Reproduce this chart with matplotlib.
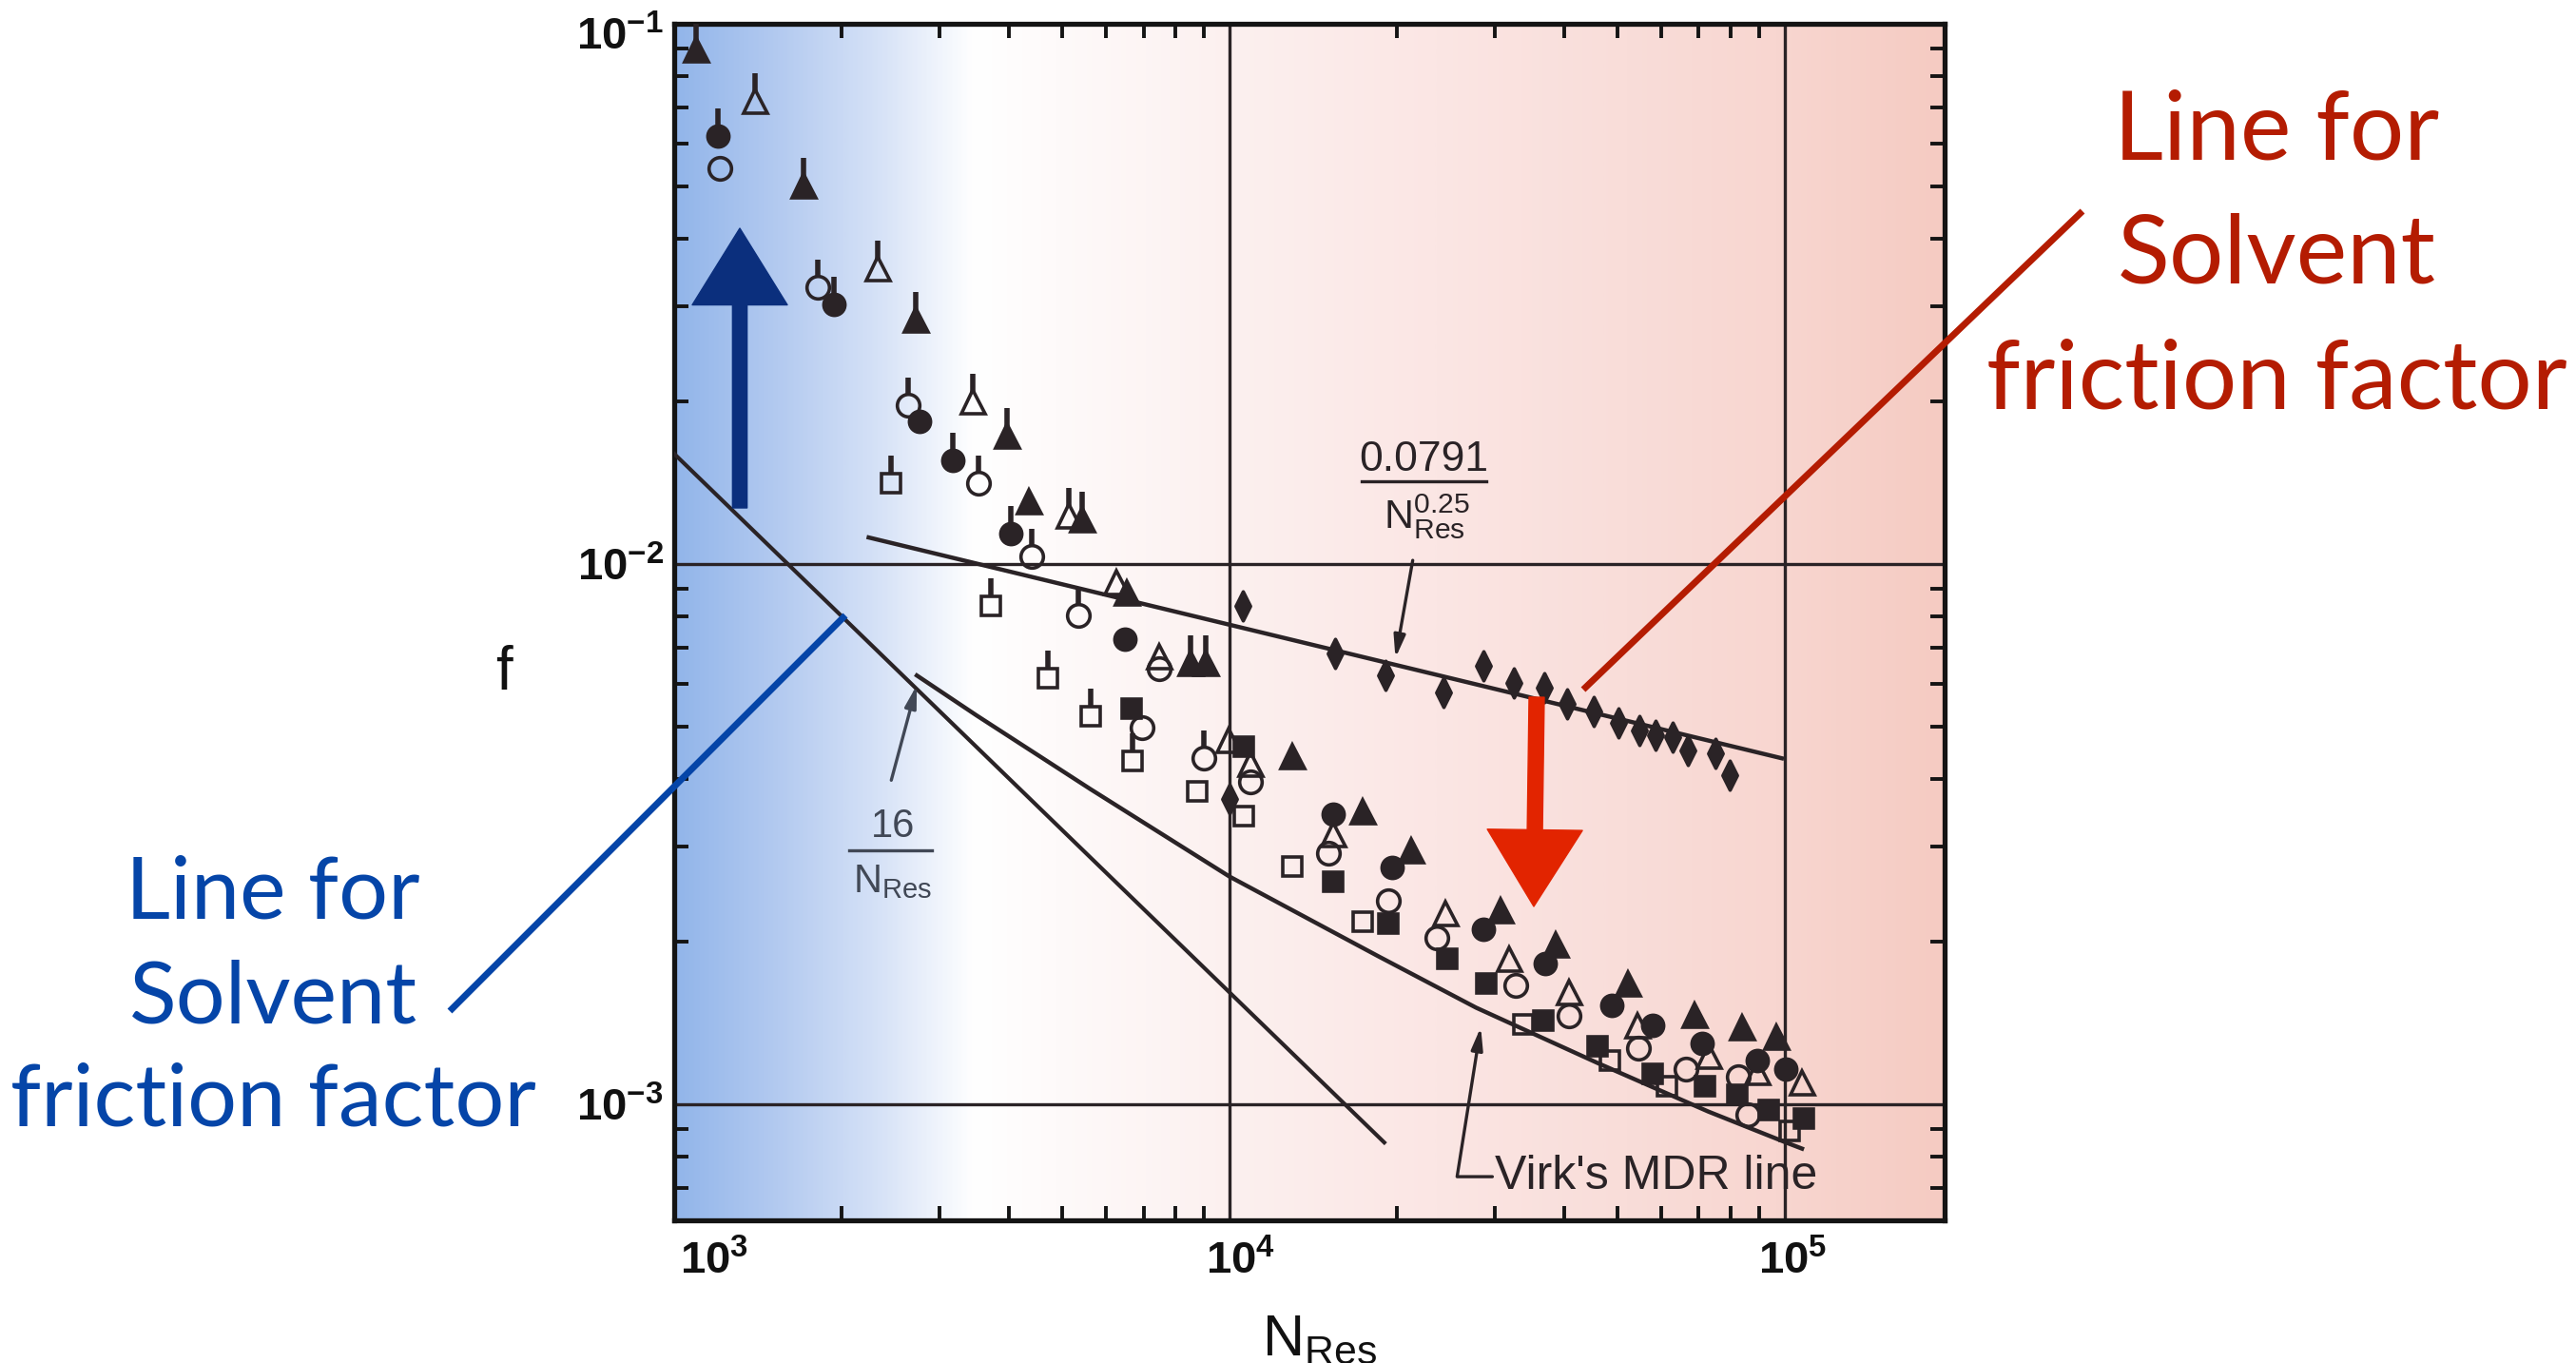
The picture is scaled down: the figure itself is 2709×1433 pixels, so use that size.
import matplotlib
matplotlib.use("Agg")
import matplotlib.pyplot as plt
import numpy as np
from matplotlib.colors import LinearSegmentedColormap
from matplotlib.lines import Line2D
from matplotlib.markers import MarkerStyle
from matplotlib.patches import FancyArrowPatch
from matplotlib.path import Path
from matplotlib.ticker import FixedLocator, LogLocator, NullFormatter
from matplotlib.transforms import ScaledTranslation

plt.rcParams["font.family"] = ["Liberation Sans", "DejaVu Sans"]
plt.rcParams["mathtext.default"] = "regular"

W, H = 2709, 1433
INK = "#2a2326"
BLUE = "#0545a8"
RED = "#b41c02"

# axis ticks
x_ticks = [1e3, 1e4, 1e5]
x_tick_labels = ["$10^{3}$", "$10^{4}$", "$10^{5}$"]
y_ticks = [1e-3, 1e-2, 1e-1]
y_tick_labels = ["$10^{-3}$", "$10^{-2}$", "$10^{-1}$"]

# reference lines
laminar_re = [1000, 19000]
laminar_f = [0.016, 0.00085]
blasius_re = [2240, 98800]
blasius_f = [0.0112, 0.00437]
virk_re = [2735, 3500, 5623, 10000, 18530, 27800, 46240, 72780, 100200, 107400]
virk_f = [0.00622, 0.00525, 0.00383, 0.00264, 0.00188, 0.00151, 0.00119, 0.00097, 0.000851, 0.000828]

# measured points (flag = symbol drawn with a tail)
open_circle_re = [1208, 1814, 2637, 3531, 4404, 5342, 7470, 6958, 8992, 10907, 15070,
                  19320, 23620, 32770, 40860, 54490, 66350, 82450, 85750]
open_circle_f = [0.0539, 0.0325, 0.0197, 0.0141, 0.01033, 0.00803, 0.0064, 0.00498, 0.00437,
                 0.00395, 0.00292, 0.00238, 0.00203, 0.00166, 0.001457, 0.001272, 0.00116,
                 0.001123, 0.000957]
open_circle_flag = [0, 1, 1, 1, 1, 1, 0, 0, 1, 0, 0, 0, 0, 0, 0, 0, 0, 0, 0]

filled_circle_re = [1199, 1940, 2766, 3175, 4036, 6480, 15370, 19630, 28660, 37030, 48800,
                    57810, 70960, 89200, 100400]
filled_circle_f = [0.0619, 0.0302, 0.01837, 0.01555, 0.01139, 0.00725, 0.00345, 0.00274,
                   0.00211, 0.00182, 0.001523, 0.0014, 0.001297, 0.001207, 0.00116]
filled_circle_flag = [1, 1, 0, 1, 1, 0, 0, 0, 0, 0, 0, 0, 0, 0, 0]

open_tri_re = [1398, 2325, 3449, 5135, 6256, 7470, 9960, 10907, 15370, 24470, 31870, 40860,
               54270, 72950, 89200, 107300]
open_tri_f = [0.072, 0.0353, 0.02, 0.01232, 0.00926, 0.00675, 0.00472, 0.00427, 0.00316,
              0.00226, 0.00186, 0.001617, 0.0014, 0.001231, 0.00115, 0.0011]
open_tri_flag = [1, 1, 1, 1, 0, 0, 0, 0, 0, 0, 0, 0, 0, 0, 0, 0]

filled_tri_re = [1095, 1710, 2722, 3975, 4352, 5427, 6531, 8509, 9063, 12970, 17370, 21230,
                 30760, 38670, 52180, 68770, 83750, 96520]
filled_tri_f = [0.0895, 0.0502, 0.0283, 0.0173, 0.01305, 0.01212, 0.00886, 0.00656, 0.00656,
                0.00441, 0.00348, 0.00295, 0.00229, 0.00198, 0.001676, 0.001463, 0.001389,
                0.001334]
filled_tri_flag = [1, 1, 1, 1, 0, 1, 0, 1, 1, 0, 0, 0, 0, 0, 0, 0, 0, 0]

open_sq_re = [1208, 2457, 3718, 4709, 5623, 6687, 8747, 10610, 12970, 17370, 33820, 48400,
              61340, 102000]
open_sq_f = [0.032, 0.0141, 0.00836, 0.00615, 0.00522, 0.00432, 0.0038, 0.00342, 0.00276,
             0.00218, 0.001405, 0.001207, 0.001079, 0.000894]
open_sq_flag = [1, 1, 1, 1, 1, 1, 0, 0, 0, 0, 0, 0, 0, 0]

filled_sq_re = [6662, 10610, 15370, 19320, 24660, 28990, 36740, 45990, 57810, 71810, 82130,
                93520, 108200]
filled_sq_f = [0.0054, 0.0046, 0.00258, 0.00216, 0.00186, 0.001676, 0.001428, 0.001282,
               0.001137, 0.001079, 0.00104, 0.000976, 0.000942]
filled_sq_flag = [0] * 13

diamond_re = [10000, 10570, 15490, 19090, 24290, 28660, 32510, 36880, 40550, 45280, 50150,
              54700, 58490, 62810, 66880, 74990, 79560]
diamond_f = [0.00367, 0.00836, 0.00683, 0.00623, 0.00579, 0.00648, 0.00603, 0.0059, 0.00551,
             0.00534, 0.00508, 0.00492, 0.00483, 0.00479, 0.00451, 0.00447, 0.00406]
diamond_flag = [0] * 17

note_lines = ["Line for", "Solvent", "friction factor"]


def fpx(x, y):
    # reference pixel -> figure fraction
    return x / W, 1 - y / H


fig = plt.figure(figsize=(W / 100, H / 100), dpi=100)
pos = [709 / W, 1 - 1283 / H, (2045 - 709) / W, (1283 - 25) / H]

# blue -> white -> pink wash behind the plot
bg = fig.add_axes(pos, zorder=0)
wash = LinearSegmentedColormap.from_list("wash", [
    (0.0, "#92b5ea"), (0.08, "#b3caf0"), (0.16, "#d6e2f7"), (0.235, "#ffffff"),
    (0.3, "#fefafa"), (0.44, "#fcf0ef"), (0.6, "#fbe6e4"), (0.75, "#f9ddd9"),
    (0.87, "#f8d6d0"), (1.0, "#f5cbc2")])
bg.imshow(np.linspace(0, 1, 512)[None, :], cmap=wash, aspect="auto", extent=[0, 1, 0, 1])
bg.set_axis_off()

ax = fig.add_axes(pos, zorder=1)
ax.patch.set_visible(False)
ax.set_xscale("log")
ax.set_yscale("log")
ax.set_xlim(1e3, 1.94e5)
ax.set_ylim(6.1e-4, 0.1)

ax.xaxis.set_major_locator(FixedLocator(x_ticks))
ax.yaxis.set_major_locator(FixedLocator(y_ticks))
ax.set_xticklabels(x_tick_labels, fontsize=34, fontweight="bold")
ax.set_yticklabels(y_tick_labels, fontsize=34, fontweight="bold")
for axis in (ax.xaxis, ax.yaxis):
    axis.set_minor_locator(LogLocator(base=10, subs=np.arange(2, 10), numticks=20))
    axis.set_minor_formatter(NullFormatter())
ax.tick_params(which="both", direction="in", top=True, right=True, color="#141414")
ax.tick_params(which="major", length=0, labelcolor="#111111")
ax.tick_params(which="minor", length=11, width=2.8)
ax.tick_params(axis="x", which="major", pad=15)
ax.tick_params(axis="y", which="major", pad=8)
ax.grid(True, which="major", color=INK, lw=2.4)
for s in ax.spines.values():
    s.set_linewidth(3.8)
    s.set_color("#141414")

ax.plot(laminar_re, laminar_f, color=INK, lw=3.0, zorder=3)
ax.plot(blasius_re, blasius_f, color=INK, lw=3.2, zorder=3)
ax.plot(virk_re, virk_f, color=INK, lw=3.2, zorder=3)

stem = MarkerStyle(Path([(0, 0.35), (0, 1.0)]))
thin_diamond = Path([(0, 1), (0.5, 0), (0, -1), (-0.5, 0), (0, 1)],
                    [Path.MOVETO, Path.LINETO, Path.LINETO, Path.LINETO, Path.CLOSEPOLY])
series = [
    (open_circle_re, open_circle_f, open_circle_flag, "o", False, 17),
    (filled_circle_re, filled_circle_f, filled_circle_flag, "o", True, 16),
    (open_tri_re, open_tri_f, open_tri_flag, "^", False, 18),
    (filled_tri_re, filled_tri_f, filled_tri_flag, "^", True, 18),
    (open_sq_re, open_sq_f, open_sq_flag, "s", False, 15),
    (filled_sq_re, filled_sq_f, filled_sq_flag, "s", True, 15),
    (diamond_re, diamond_f, diamond_flag, thin_diamond, True, 22),
]
for re_, f_, flags, mk, filled, ms in series:
    ax.plot(re_, f_, ls="none", marker=mk, ms=ms, mew=2.6, mec=INK,
            mfc=INK if filled else "none", zorder=4)
    fx = [r for r, fl in zip(re_, flags) if fl]
    fy = [v for v, fl in zip(f_, flags) if fl]
    ax.plot(fx, fy, ls="none", marker=stem, ms=42, mew=4.0, mec=INK, mfc="none", zorder=4)

# small arrows pointing at the curves
head = dict(arrowstyle="-|>,head_length=0.7,head_width=0.18", mutation_scale=20,
            lw=2.4, shrinkA=0, shrinkB=0)
ax.annotate("", xy=(2735, 0.00597), xytext=(2460, 0.00398),
            arrowprops=dict(color="#414856", **head), zorder=5)
ax.annotate("", xy=(19900, 0.0067), xytext=(21380, 0.01016),
            arrowprops=dict(color=INK, **head), zorder=5)
ax.annotate("Virk's MDR line", xy=(28350, 0.00139), xytext=(30070, 0.000697),
            fontsize=36, color=INK, ha="left", va="baseline", zorder=5,
            arrowprops=dict(color=INK, connectionstyle="angle,angleA=0,angleB=81,rad=0",
                            relpos=(0, 0.5), **head))

# fraction labels
fig.text(*fpx(939, 880), "16", fontsize=30, color="#414856", ha="center", va="baseline")
fig.add_artist(Line2D([893 / W, 980 / W], [1 - 894 / H] * 2, color="#414856", lw=2.4))
fig.text(*fpx(939, 938), "$N_{Res}$", fontsize=30, color="#414856", ha="center", va="baseline")
fig.text(*fpx(1497, 495), "0.0791", fontsize=32, color=INK, ha="center", va="baseline")
fig.add_artist(Line2D([1432 / W, 1563 / W], [1 - 506 / H] * 2, color=INK, lw=2.4))
fig.text(*fpx(1500, 556), "$N_{Res}^{0.25}$", fontsize=31, color=INK, ha="center", va="baseline")

fig.text(*fpx(530, 708), "f", fontsize=46, color="#111111", ha="center", va="center")
fig.text(*fpx(1388, 1424), "$N_{Res}$", fontsize=44, color="#111111", ha="center", va="baseline")

# shift tick labels like the scan
for lbl, dx in zip(ax.get_xticklabels(), [42, 12, 8]):
    lbl.set_transform(lbl.get_transform() + ScaledTranslation(dx / 100, 0, fig.dpi_scale_trans))
top_lbl = ax.get_yticklabels()[-1]
top_lbl.set_transform(top_lbl.get_transform() + ScaledTranslation(0, -10 / 100, fig.dpi_scale_trans))

# hand-drawn style call-outs
fig.add_artist(FancyArrowPatch(fpx(778, 534), fpx(778, 240), transform=fig.transFigure,
                               arrowstyle="simple,head_length=5.8,head_width=7.2,tail_width=1.1",
                               mutation_scale=10, color="#0b2f7d", shrinkA=0, shrinkB=0, zorder=6))
fig.add_artist(FancyArrowPatch(fpx(1616, 733), fpx(1613, 953), transform=fig.transFigure,
                               arrowstyle="simple,head_length=5.8,head_width=7.2,tail_width=1.15",
                               mutation_scale=10, color="#e22400", shrinkA=0, shrinkB=0, zorder=6))
fig.add_artist(Line2D([473 / W, 889 / W], [1 - 1063 / H, 1 - 647 / H], color=BLUE, lw=5,
                      solid_capstyle="butt", zorder=6))
fig.add_artist(Line2D([1665 / W, 2190 / W], [1 - 725 / H, 1 - 222 / H], color=RED, lw=5,
                      solid_capstyle="butt", zorder=6))

for txt, yb in zip(note_lines, [966, 1075, 1183]):
    fig.text(*fpx(287, yb), txt, fontsize=66, family="Lato", color=BLUE, ha="center", va="baseline")
for txt, yb in zip(note_lines, [168, 298, 430]):
    fig.text(*fpx(2394, yb), txt, fontsize=73, family="Lato", color=RED, ha="center", va="baseline")

fig.savefig("out.png", dpi=100)
